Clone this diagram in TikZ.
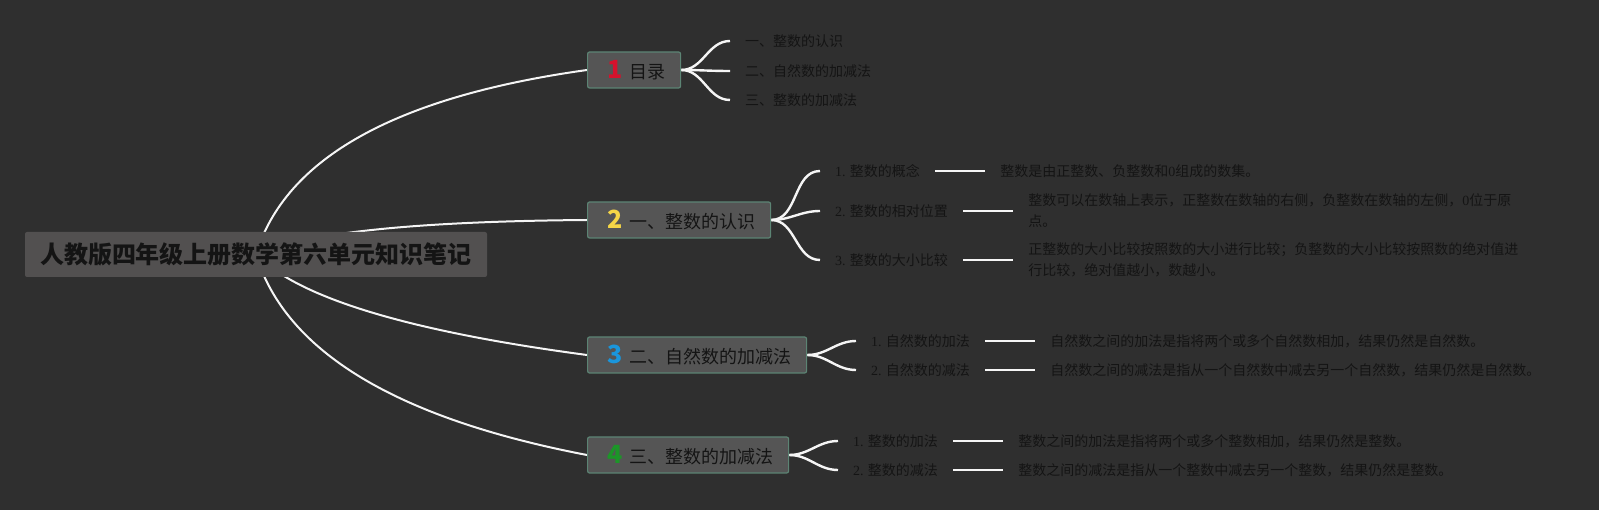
\documentclass[tikz,border=0pt]{standalone}
\usepackage{fontspec}
\setmainfont{Noto Sans CJK SC}
\newfontfamily\latserif{Liberation Serif}
\usetikzlibrary{positioning,backgrounds}
\definecolor{bgc}{RGB}{47,47,47}
\definecolor{rootfill}{RGB}{82,80,80}
\definecolor{brfill}{RGB}{85,85,85}
\definecolor{brborder}{RGB}{92,132,116}
\definecolor{txt}{RGB}{20,20,20}
\definecolor{linec}{RGB}{245,245,245}
\definecolor{numred}{RGB}{213,18,45}
\definecolor{numyellow}{RGB}{245,214,71}
\definecolor{numblue}{RGB}{26,150,220}
\definecolor{numgreen}{RGB}{28,150,40}
\newcommand\brnum[2]{{\bfseries\fontsize{25}{25}\selectfont\color{#1}#2}}
\tikzset{
  rootconn/.style={draw=linec, line width=2pt},
  leafconn/.style={draw=linec, line width=2.4pt},
  descline/.style={draw=linec, line width=2pt},
  rootbox/.style={fill=rootfill, rounded corners=2pt, minimum width=462pt, minimum height=45pt, inner sep=0pt, font=\bfseries\fontsize{24}{28}\selectfont, text=txt},
  branchbox/.style={fill=brfill, draw=brborder, line width=1.2pt, rounded corners=2pt, minimum height=36pt, inner sep=0pt, font=\fontsize{18}{22}\selectfont, text=txt, anchor=west},
  leaf/.style={anchor=west, inner xsep=15pt, inner ysep=2pt, font=\fontsize{14}{17}\selectfont, text=txt},
  desc/.style={anchor=west, inner xsep=15pt, inner ysep=2pt, font=\fontsize{14}{21}\selectfont, text=txt, align=left},
}
\begin{document}
\begin{tikzpicture}[x=1pt,y=-1pt]
\useasboundingbox (0,0) rectangle (1599,510);
% root
\node[rootbox] (root) at (256,254.5) {人教版四年级上册数学第六单元知识笔记};
% branches
\node[branchbox] (b1) at (587,70) {\makebox[93pt][l]{\hspace{20pt}\brnum{numred}{1}\hspace{7pt}目录}};
\node[branchbox] (b2) at (587,220) {\makebox[183pt][l]{\hspace{20pt}\brnum{numyellow}{2}\hspace{7pt}一、整数的认识}};
\node[branchbox] (b3) at (587,355) {\makebox[219pt][l]{\hspace{20pt}\brnum{numblue}{3}\hspace{7pt}二、自然数的加减法}};
\node[branchbox] (b4) at (587,455) {\makebox[201pt][l]{\hspace{20pt}\brnum{numgreen}{4}\hspace{7pt}三、整数的加减法}};
% branch 1 leaves
\node[leaf] (l11) at (730,41) {一、整数的认识};
\node[leaf] (l12) at (730,71) {二、自然数的加减法};
\node[leaf] (l13) at (730,100) {三、整数的加减法};
% branch 2 leaves
\node[leaf] (l21) at (820,171) {{\latserif 1.} 整数的概念};
\node[leaf] (l22) at (820,211) {{\latserif 2.} 整数的相对位置};
\node[leaf] (l23) at (820,260) {{\latserif 3.} 整数的大小比较};
\node[desc, right=50pt of l21] (d21) {整数是由正整数、负整数和{\latserif 0}组成的数集。};
\node[desc, right=50pt of l22] (d22) {整数可以在数轴上表示，正整数在数轴的右侧，负整数在数轴的左侧，{\latserif 0}位于原\\点。};
\node[desc, right=50pt of l23] (d23) {正整数的大小比较按照数的大小进行比较；负整数的大小比较按照数的绝对值进\\行比较，绝对值越小，数越小。};
% branch 3 leaves
\node[leaf] (l31) at (856,341) {{\latserif 1.} 自然数的加法};
\node[leaf] (l32) at (856,370) {{\latserif 2.} 自然数的减法};
\node[desc, right=50pt of l31] (d31) {自然数之间的加法是指将两个或多个自然数相加，结果仍然是自然数。};
\node[desc, right=50pt of l32] (d32) {自然数之间的减法是指从一个自然数中减去另一个自然数，结果仍然是自然数。};
% branch 4 leaves
\node[leaf] (l41) at (838,441) {{\latserif 1.} 整数的加法};
\node[leaf] (l42) at (838,470) {{\latserif 2.} 整数的减法};
\node[desc, right=50pt of l41] (d41) {整数之间的加法是指将两个或多个整数相加，结果仍然是整数。};
\node[desc, right=50pt of l42] (d42) {整数之间的减法是指从一个整数中减去另一个整数，结果仍然是整数。};
\begin{scope}[on background layer]
\fill[bgc] (0,0) rectangle (1599,510);
% root connectors
\draw[rootconn] (root.center) .. controls (285.3,158) and (395.7,96.7) .. (b1.west);
\draw[rootconn] (root.center) .. controls (305.3,232.7) and (415.7,221.3) .. (b2.west);
\draw[rootconn] (root.center) .. controls (298.7,298) and (409,331.3) .. (b3.west);
\draw[rootconn] (root.center) .. controls (285.3,351.3) and (395.7,418.3) .. (b4.west);
% leaf connectors
\foreach \b/\l in {b1/l11,b1/l12,b1/l13,b2/l21,b2/l22,b2/l23,b3/l31,b3/l32,b4/l41,b4/l42}
  \draw[leafconn] (\b.east) to[out=0,in=180] (\l.west);
% description lines
\foreach \l/\d in {l21/d21,l22/d22,l23/d23,l31/d31,l32/d32,l41/d41,l42/d42}
  \draw[descline] (\l.east) -- (\d.west);
\end{scope}
\end{tikzpicture}
\end{document}
